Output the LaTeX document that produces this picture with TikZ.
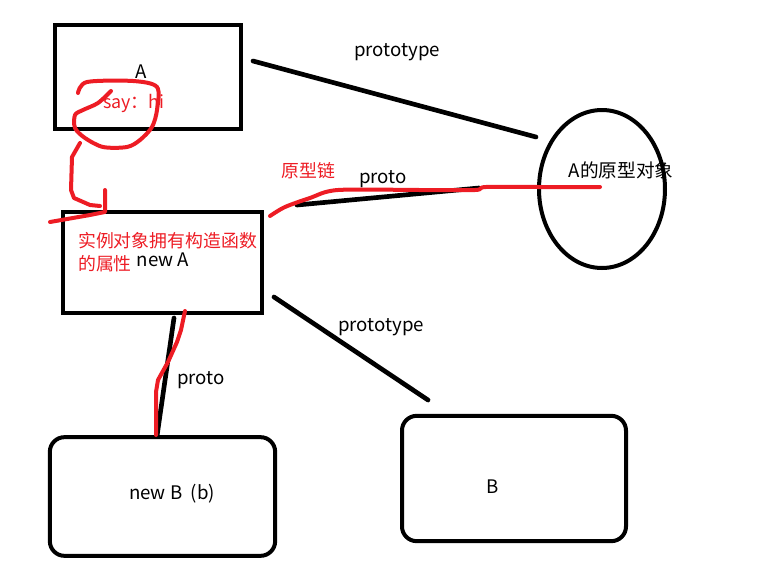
\documentclass[tikz,border=0pt]{standalone}
\usepackage{fontspec}
\setmainfont{Noto Sans CJK SC}
\usetikzlibrary{shapes.geometric, positioning}
\definecolor{paintred}{RGB}{237, 28, 36}
\tikzset{
  objbox/.style={draw, line width=3pt, minimum width=#1},
  lbl/.style={font=\fontsize{14}{16}\selectfont, inner sep=0pt},
  redlbl/.style={font=\fontsize{13.4}{17}\selectfont, text=paintred, inner sep=0pt},
  link/.style={line width=3.5pt, line cap=round},
  chain/.style={paintred, line width=3pt, line cap=round, line join=round}
}
\begin{document}
\begin{tikzpicture}[x=0.75pt, y=-0.75pt]
  \useasboundingbox (0,0) rectangle (783,561);

  % boxes
  \node[objbox=139.5pt, minimum height=78pt] (A) at (148,77) {};
  \node[objbox=149pt, minimum height=76pt] (newA) at (162.5,262.5) {};
  \node[objbox=168pt, minimum height=94pt, rounded corners=11pt] (B) at (514,478.5) {};
  \node[objbox=169pt, minimum height=89pt, rounded corners=11pt] (newB) at (162.5,496.5) {};
  \node[draw, ellipse, line width=3pt, minimum width=94.5pt, minimum height=118.5pt] (protoA) at (602,189) {};

  % texts
  \node[lbl] (Atxt) at (141,72) {A};
  \node[lbl] (protoAtxt) at (621,170) {A的原型对象};
  \node[lbl] (newAtxt) at (163,260) {new A};
  \node[lbl] (Btxt) at (493,487) {B};
  \node[lbl] (newBtxt) at (172,494) {new B\ \ (b)};
  \node[lbl] (ptA) at (397,52) {prototype};
  \node[lbl] (ptB) at (381,327) {prototype};
  \node[lbl] (prA) at (383,179) {proto};
  \node[lbl] (prB) at (201,380) {proto};

  % connector ends
  \coordinate (a1) at (253,61);
  \coordinate (a2) at (536,137);
  \coordinate (n1) at (297,205);
  \coordinate (n2) at (479,188);
  \coordinate (b1) at (274,297);
  \coordinate (b2) at (428,400);
  \coordinate (c1) at (174,318);
  \coordinate (c2) at (157,436);

  \draw[link] (a1) -- (a2);
  \draw[link] (n1) -- (n2);
  \draw[link] (b1) -- (b2);
  \draw[link] (c1) -- (c2);

  % red notes
  \node[redlbl, anchor=west] (sayhi) at (103,103) {say：hi};
  \node[redlbl, anchor=west] (chaintxt) at (281,171) {原型链};
  \node[redlbl, anchor=north west, align=left] (inherit) at (78,232) {实例对象拥有构造函数\\的属性};

  % red strokes
  \draw[chain] plot[smooth] coordinates {(78,93) (87,82) (133,81) (157,87) (157,110) (152,127) (140,140) (127,147) (103,147) (85,138) (75,128) (75,115) (83,110) (98,103) (111,91)};
  \draw[chain] (80,143) -- (72,157) -- (71,190) -- (74,198) -- (90,205) -- (100,206);
  \draw[chain] (105,190) -- (105,212) -- (90,215) -- (50,222);
  \draw[chain] plot[smooth] coordinates {(270,216) (285,207) (310,198) (338,190) (420,190) (475,190) (486,187) (540,187) (600,187)};
  \draw[chain] (185,311) -- (181,330) -- (177,342) -- (168,362) -- (158,380) -- (156,392) -- (156,435);
\end{tikzpicture}
\end{document}
